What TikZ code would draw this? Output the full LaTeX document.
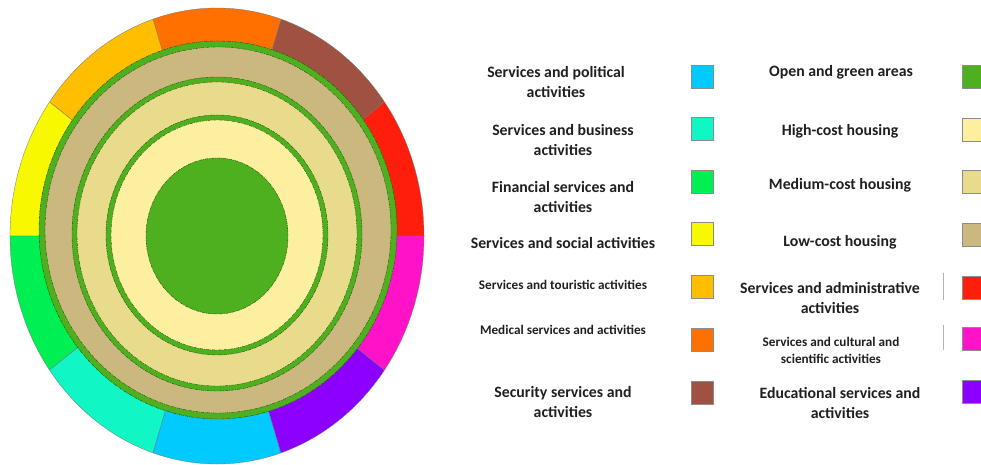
\documentclass[tikz,border=0pt]{standalone}
\usepackage{fontspec}
\setmainfont{Carlito}
\usepackage{tikz}
\usetikzlibrary{positioning}

\definecolor{cadmin}{RGB}{255,30,12}
\definecolor{csecur}{RGB}{160,82,66}
\definecolor{cmedic}{RGB}{255,112,0}
\definecolor{ctour}{RGB}{255,190,0}
\definecolor{csocial}{RGB}{248,248,0}
\definecolor{cfinan}{RGB}{0,240,84}
\definecolor{cbusin}{RGB}{16,246,196}
\definecolor{cpolit}{RGB}{0,202,255}
\definecolor{ceduc}{RGB}{140,0,255}
\definecolor{ccult}{RGB}{255,18,200}
\definecolor{cgreen}{RGB}{78,176,30}
\definecolor{chigh}{RGB}{252,240,160}
\definecolor{cmed}{RGB}{232,220,140}
\definecolor{clow}{RGB}{202,184,126}

\begin{document}
\begin{tikzpicture}[x=1pt,y=1pt]
\tikzstyle{sect}=[draw=black!55, line width=0.3pt]
\tikzstyle{edge}=[draw=cgreen!45!black, dash pattern=on 3pt off 1pt on 1pt off 1pt, line width=0.4pt]
\tikzstyle{lbl}=[align=center, inner sep=0pt, text=black!88, font=\fontsize{15.8}{20}\selectfont\bfseries]
\tikzstyle{sml}=[align=center, inner sep=0pt, text=black!88, font=\fontsize{13.2}{17}\selectfont\bfseries]
\tikzstyle{swatch}=[draw=black!45, line width=0.3pt, minimum width=22pt, minimum height=23pt, inner sep=0pt]
\pgfmathsetmacro{\rx}{207}
\pgfmathsetmacro{\ry}{228}

\useasboundingbox (0,0) rectangle (981,464);

% outer ring of services, ten sectors
\coordinate (O) at (217,228);
\foreach \c [count=\i from 0] in {cadmin,csecur,cmedic,ctour,csocial,cfinan,cbusin,cpolit,ceduc,ccult}{
  \pgfmathsetmacro{\a}{36*\i}
  \fill[\c, sect] (O) -- ++(\a:\rx pt and \ry pt) arc[start angle=\a, delta angle=36, x radius=\rx pt, y radius=\ry pt] -- cycle;
}

% housing rings with green belts
\coordinate (L) at (218,234);
\coordinate (M) at (217,230);
\coordinate (H) at (217,229);
\fill[cgreen, edge] (L) ellipse[x radius=179pt, y radius=189pt];
\fill[clow, edge] (L) ellipse[x radius=173pt, y radius=183pt];
\fill[cgreen, edge] (M) ellipse[x radius=145pt, y radius=157pt];
\fill[cmed, edge] (M) ellipse[x radius=140pt, y radius=152pt];
\fill[cgreen, edge] (H) ellipse[x radius=111pt, y radius=120pt];
\fill[chigh, edge] (H) ellipse[x radius=106pt, y radius=115pt];
\fill[cgreen, edge] (O) ellipse[x radius=71pt, y radius=78pt];

% legend
\foreach \n/\c/\y in {polit/cpolit/387, busin/cbusin/335, finan/cfinan/282, social/csocial/230, tour/ctour/177, medic/cmedic/124, secur/csecur/71}
  \node[swatch, fill=\c] (s\n) at (702,\y) {};
\foreach \n/\c/\y in {green/cgreen/387, high/chigh/334, med/cmed/282, low/clow/229, admin/cadmin/176, cult/ccult/125, educ/ceduc/72}
  \node[swatch, fill=\c] (s\n) at (973,\y) {};

\node[lbl] (tpolit) at (556,382) {Services and political\\activities};
\node[lbl] (tbusin) at (563,324) {Services and business\\activities};
\node[lbl] (tfinan) at (563,267) {Financial services and\\activities};
\node[lbl] (tsocial) at (563,221) {Services and social activities};
\node[sml] (ttour) at (563,179) {Services and touristic activities};
\node[sml] (tmedic) at (563,134) {Medical services and activities};
\node[lbl] (tsecur) at (563,62) {Security services and\\activities};

\node[lbl] (tgreen) at (841,392) {Open and green areas};
\node[lbl] (thigh) at (840,333) {High-cost housing};
\node[lbl] (tmed) at (840,279) {Medium-cost housing};
\node[lbl] (tlow) at (840,222) {Low-cost housing};
\node[lbl] (tadmin) at (830,166) {Services and administrative\\activities};
\node[sml] (tcult) at (831,114) {Services and cultural and\\scientific activities};
\node[lbl] (teduc) at (840,61) {Educational services and\\activities};

\draw[black!30, line width=1pt] (943,191) -- (943,164);
\draw[black!30, line width=1pt] (943,139) -- (943,114);
\end{tikzpicture}
\end{document}
